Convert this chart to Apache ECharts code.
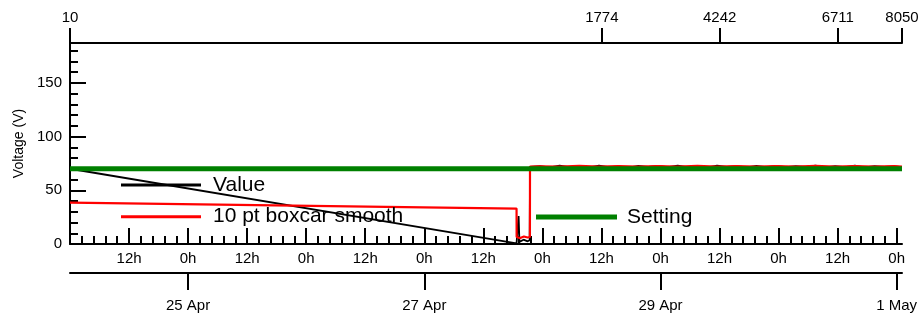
<!DOCTYPE html>
<html>
<head>
<meta charset="utf-8">
<script src="https://cdn.jsdelivr.net/npm/echarts@6/dist/echarts.min.js"></script>
<style>
html,body{margin:0;padding:0;background:#fff;}
#chart{width:924px;height:318px;}
</style>
</head>
<body>
<div id="chart"></div>
<script>
// ---- data ----
const xStart = '2021-04-24 00:00';
const xEnd = '2021-05-01 01:05';

const valuePoints = [
  ['2021-04-24 00:00', 70.0],
  ['2021-04-27 18:45', 0.5],
  ['2021-04-27 19:10', 26.0],
  ['2021-04-27 19:20', 2.0],
  ['2021-04-27 20:10', 4.0],
  ['2021-04-27 21:00', 2.5],
  ['2021-04-27 21:25', 3.5],
  ['2021-04-27 21:30', 71.8],
  ['2021-04-27 23:30', 72.4], ['2021-04-28 01:30', 71.3], ['2021-04-28 03:30', 72.8],
  ['2021-04-28 05:30', 71.6], ['2021-04-28 07:30', 72.5], ['2021-04-28 09:30', 71.2],
  ['2021-04-28 11:30', 72.9], ['2021-04-28 13:30', 71.5], ['2021-04-28 15:30', 72.3],
  ['2021-04-28 17:30', 71.1], ['2021-04-28 19:30', 72.7], ['2021-04-28 21:30', 71.7],
  ['2021-04-28 23:30', 72.6], ['2021-04-29 01:30', 71.4], ['2021-04-29 03:30', 72.8],
  ['2021-04-29 05:30', 71.6], ['2021-04-29 07:30', 72.2], ['2021-04-29 09:30', 71.3],
  ['2021-04-29 11:30', 72.9], ['2021-04-29 13:30', 71.8], ['2021-04-29 15:30', 72.4],
  ['2021-04-29 17:30', 71.2], ['2021-04-29 19:30', 72.6], ['2021-04-29 21:30', 71.5],
  ['2021-04-29 23:30', 72.7], ['2021-04-30 01:30', 71.4], ['2021-04-30 03:30', 72.5],
  ['2021-04-30 05:30', 71.7], ['2021-04-30 07:30', 72.8], ['2021-04-30 09:30', 71.3],
  ['2021-04-30 11:30', 72.4], ['2021-04-30 13:30', 71.6], ['2021-04-30 15:30', 72.9],
  ['2021-04-30 17:30', 71.2], ['2021-04-30 19:30', 72.5], ['2021-04-30 21:30', 71.8],
  ['2021-04-30 23:30', 72.3], ['2021-05-01 01:05', 71.6]
];

const smoothPoints = [
  ['2021-04-24 00:00', 38.5],
  ['2021-04-27 18:45', 33.0],
  ['2021-04-27 18:46', 6.5],
  ['2021-04-27 19:30', 5.5],
  ['2021-04-27 20:15', 7.0],
  ['2021-04-27 21:00', 6.0],
  ['2021-04-27 21:28', 6.5],
  ['2021-04-27 21:29', 72.0],
  ['2021-04-27 23:30', 72.3], ['2021-04-28 03:30', 71.9], ['2021-04-28 07:30', 72.6],
  ['2021-04-28 11:30', 72.0], ['2021-04-28 15:30', 72.5], ['2021-04-28 19:30', 71.9],
  ['2021-04-28 23:30', 72.4], ['2021-04-29 03:30', 72.1], ['2021-04-29 07:30', 72.6],
  ['2021-04-29 11:30', 71.9], ['2021-04-29 15:30', 72.4], ['2021-04-29 19:30', 72.0],
  ['2021-04-29 23:30', 72.5], ['2021-04-30 03:30', 71.9], ['2021-04-30 07:30', 72.6],
  ['2021-04-30 11:30', 72.1], ['2021-04-30 15:30', 72.5], ['2021-04-30 19:30', 71.9],
  ['2021-04-30 23:30', 72.4], ['2021-05-01 01:05', 72.1]
];

const settingPoints = [
  ['2021-04-24 00:00', 70.0],
  ['2021-05-01 01:05', 70.0]
];

const seriesNames = ['Value', '10 pt boxcar smooth', 'Setting'];

const topTickTimes = ['2021-04-24 00:00', '2021-04-28 12:05', '2021-04-29 12:02', '2021-04-30 12:02', '2021-05-01 01:05'];
const topTickLabels = ['10', '1774', '4242', '6711', '8050'];

const dateTickTimes = ['2021-04-25 00:00', '2021-04-27 00:00', '2021-04-29 00:00', '2021-05-01 00:00'];
const dateTickLabels = ['25 Apr', '27 Apr', '29 Apr', '1 May'];

const yMajorTicks = [0, 50, 100, 150];
const yMinorTicks = [10, 20, 30, 40, 60, 70, 80, 90, 110, 120, 130, 140, 160, 170, 180];
const yMax = 187;

// ---- helpers ----
function toMs(s) {
  const [d, t] = s.split(' ');
  const [Y, M, D] = d.split('-').map(Number);
  const [h, m] = t.split(':').map(Number);
  return Date.UTC(Y, M - 1, D, h, m);
}
const T0 = toMs(xStart), T1 = toMs(xEnd);
const H = 3600000;
const hourMajor = [], hourMinor = [];
for (let t = T0; t <= T1; t += 12 * H) hourMajor.push(t);
for (let t = T0; t <= T1; t += 2.4 * H) hourMinor.push(t);
const topVals = topTickTimes.map(toMs);
const dateVals = dateTickTimes.map(toMs);
const conv = pts => pts.map(p => [toMs(p[0]), p[1]]);

const FONT = 'Liberation Sans';
const BLACK = '#000';
const axLine = { show: true, onZero: false, lineStyle: { color: BLACK, width: 2 } };

const chart = echarts.init(document.getElementById('chart'), null, { renderer: 'canvas' });
chart.setOption({
  animation: false,
  backgroundColor: '#fff',
  textStyle: { fontFamily: FONT, color: BLACK },
  grid: { left: 70, right: 22, top: 43, bottom: 74, containLabel: false },
  legend: [
    {
      data: ['Value', '10 pt boxcar smooth'],
      orient: 'vertical', left: 121, top: 172, padding: 0,
      itemWidth: 80, itemHeight: 3, itemGap: 5.7, icon: 'rect',
      textStyle: { fontSize: 21, lineHeight: 20, color: BLACK, fontFamily: FONT, padding: [6, 0, 0, 7] },
      selectedMode: false
    },
    {
      data: ['Setting'],
      orient: 'vertical', left: 536, top: 204, padding: 0,
      itemWidth: 81, itemHeight: 5, icon: 'rect',
      textStyle: { fontSize: 21, lineHeight: 20, color: BLACK, fontFamily: FONT, padding: [6, 0, 0, 5] },
      selectedMode: false
    }
  ],
  xAxis: [
    { // inner hour axis
      type: 'value', position: 'bottom', min: T0, max: T1,
      axisLine: axLine,
      axisTick: { show: true, inside: true, length: 16, lineStyle: { color: BLACK, width: 2 }, customValues: hourMajor },
      axisLabel: {
        show: true, customValues: hourMajor.slice(1), margin: 7, fontSize: 15, color: BLACK, fontFamily: FONT,
        formatter: v => new Date(v).getUTCHours() + 'h'
      },
      splitLine: { show: false }
    },
    { // top point-number axis
      type: 'value', position: 'top', min: T0, max: T1,
      axisLine: axLine,
      axisTick: { show: true, inside: false, length: 15, lineStyle: { color: BLACK, width: 2 }, customValues: topVals },
      axisLabel: {
        show: true, customValues: topVals, margin: 18, fontSize: 15, color: BLACK, fontFamily: FONT,
        formatter: v => { const i = topVals.indexOf(v); return i >= 0 ? topTickLabels[i] : ''; }
      },
      splitLine: { show: false }
    },
    { // outer date axis
      type: 'value', position: 'bottom', offset: 29, min: T0, max: T1,
      axisLine: axLine,
      axisTick: { show: true, inside: false, length: 17, lineStyle: { color: BLACK, width: 2 }, customValues: dateVals },
      axisLabel: {
        show: true, customValues: dateVals, margin: 25, fontSize: 15, color: BLACK, fontFamily: FONT,
        formatter: v => { const i = dateVals.indexOf(v); return i >= 0 ? dateTickLabels[i] : ''; }
      },
      splitLine: { show: false }
    },
    { // minor hour ticks
      type: 'value', position: 'bottom', min: T0, max: T1,
      axisLine: { show: false, onZero: false },
      axisTick: { show: true, inside: true, length: 8, lineStyle: { color: BLACK, width: 2 }, customValues: hourMinor },
      axisLabel: { show: false },
      splitLine: { show: false }
    }
  ],
  yAxis: [
    {
      type: 'value', min: 0, max: yMax, position: 'left',
      name: 'Voltage (V)', nameLocation: 'middle', nameGap: 33,
      nameTextStyle: { fontSize: 14, color: BLACK, fontFamily: FONT },
      axisLine: axLine,
      axisTick: { show: true, inside: true, length: 16, lineStyle: { color: BLACK, width: 2 }, customValues: yMajorTicks },
      axisLabel: { show: true, customValues: yMajorTicks, margin: 8, fontSize: 15, color: BLACK, fontFamily: FONT },
      splitLine: { show: false }
    },
    {
      type: 'value', min: 0, max: yMax, position: 'left',
      axisLine: { show: false, onZero: false },
      axisTick: { show: true, inside: true, length: 8, lineStyle: { color: BLACK, width: 2 }, customValues: yMinorTicks },
      axisLabel: { show: false },
      splitLine: { show: false }
    }
  ],
  series: [
    {
      name: seriesNames[0], type: 'line', xAxisIndex: 0, yAxisIndex: 0,
      data: conv(valuePoints), showSymbol: false, z: 2,
      lineStyle: { color: '#000', width: 1.8 }, itemStyle: { color: '#000' }
    },
    {
      name: seriesNames[1], type: 'line', xAxisIndex: 0, yAxisIndex: 0,
      data: conv(smoothPoints), showSymbol: false, z: 3,
      lineStyle: { color: '#ff0000', width: 2.2 }, itemStyle: { color: '#ff0000' }
    },
    {
      name: seriesNames[2], type: 'line', xAxisIndex: 0, yAxisIndex: 0,
      data: conv(settingPoints), showSymbol: false, z: 4,
      lineStyle: { color: '#008000', width: 5 }, itemStyle: { color: '#008000' }
    }
  ]
});
</script>
</body>
</html>
